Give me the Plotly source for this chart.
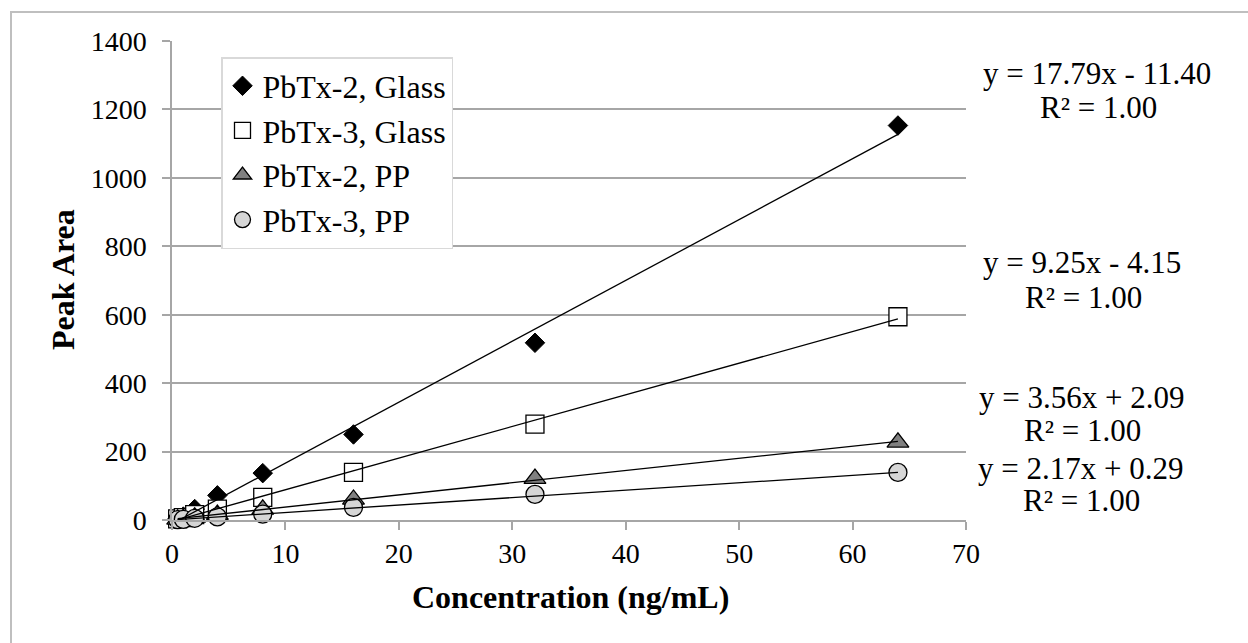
import plotly.graph_objects as go

# ---------------- data ----------------
conc = [0.5, 1, 2, 4, 8, 16, 32, 64]
pbtx2_glass = [4, 10, 32, 72, 137, 250, 518, 1153]
pbtx3_glass = [3, 7, 16, 32, 66, 139, 280, 594]
pbtx2_pp = [2, 4, 8, 16, 31, 60, 121, 227]
pbtx3_pp = [1, 2, 5, 9, 17, 37, 75, 139]
series_names = ["PbTx-2, Glass", "PbTx-3, Glass", "PbTx-2, PP", "PbTx-3, PP"]
fit_slopes = [17.79, 9.25, 3.56, 2.17]
fit_intercepts = [-11.40, -4.15, 2.09, 0.29]
r_squared = [1.00, 1.00, 1.00, 1.00]
x_ticks = [0, 10, 20, 30, 40, 50, 60, 70]
y_ticks = [0, 200, 400, 600, 800, 1000, 1200, 1400]
x_title = "Concentration (ng/mL)"
y_title = "Peak Area"

# ---------------- layout helpers ----------------
W, H = 1248, 643
L, R, T, B = 172, 966, 41, 520


def px(x):
    return (x - L) / (R - L)


def py(y):
    return (B - y) / (B - T)


FONT = "Liberation Serif, Times New Roman, serif"
GRID = "#a6a6a6"

series_values = [pbtx2_glass, pbtx3_glass, pbtx2_pp, pbtx3_pp]
marker_styles = [
    dict(symbol="diamond", size=15, color="black", line=dict(color="black", width=1)),
    dict(symbol="square", size=18, color="white", line=dict(color="black", width=1.3)),
    dict(symbol="triangle-up", size=19, color="#808080", line=dict(color="black", width=1.3)),
    dict(symbol="circle", size=18, color="#d6d6d6", line=dict(color="black", width=1.3)),
]

fig = go.Figure()
for name, vals, mk in zip(series_names, series_values, marker_styles):
    fig.add_trace(go.Scatter(x=conc, y=vals, mode="markers", name=name,
                             marker=mk, legendgroup=name, cliponaxis=False))

# trendlines from the fitted equations over the data range
x_lo, x_hi = min(conc), max(conc)
for m, b in zip(fit_slopes, fit_intercepts):
    fig.add_trace(go.Scatter(x=[x_lo, x_hi], y=[m * x_lo + b, m * x_hi + b],
                             mode="lines", line=dict(color="black", width=1.3),
                             showlegend=False, hoverinfo="skip"))

# equation labels (block centre x, equation y, R² y) in pixels
eq_pos = [(1097, 1098, 73, 107), (1082, 1083, 262, 297),
          (1081, 1082, 397, 430), (1080, 1081, 468, 500)]
annotations = []
for (m, b, r2), (xe, xr, ye, yr) in zip(zip(fit_slopes, fit_intercepts, r_squared), eq_pos):
    sign = "-" if b < 0 else "+"
    annotations.append(dict(xref="paper", yref="paper", x=px(xe), y=py(ye),
                            text=f"y = {m:.2f}x {sign} {abs(b):.2f}", showarrow=False,
                            xanchor="center", yanchor="middle",
                            font=dict(family=FONT, size=31, color="black")))
    annotations.append(dict(xref="paper", yref="paper", x=px(xr), y=py(yr),
                            text=f"R² = {r2:.2f}", showarrow=False,
                            xanchor="center", yanchor="middle",
                            font=dict(family=FONT, size=31, color="black")))

annotations.append(dict(xref="paper", yref="paper", x=px(63), y=py(280), text=y_title,
                        textangle=-90, showarrow=False, xanchor="center", yanchor="middle",
                        font=dict(family=FONT, size=32, color="black", weight="bold")))
annotations.append(dict(xref="paper", yref="paper", x=px(570), y=py(597), text=x_title,
                        showarrow=False, xanchor="center", yanchor="middle",
                        font=dict(family=FONT, size=32, color="black", weight="bold")))

fig.update_layout(
    width=W, height=H,
    margin=dict(l=L, r=W - R, t=T, b=H - B, pad=0),
    paper_bgcolor="white", plot_bgcolor="white",
    font=dict(family=FONT, size=28, color="black"),
    showlegend=True,
    legend=dict(x=px(221), y=py(57), xanchor="left", yanchor="top",
                bgcolor="white", bordercolor="#d9d9d9", borderwidth=1.5,
                font=dict(family=FONT, size=32, color="black"),
                tracegroupgap=0, itemwidth=30),
    annotations=annotations,
    shapes=[dict(type="rect", xref="paper", yref="paper",
                 x0=px(11), y0=py(700), x1=px(1300), y1=py(12),
                 line=dict(color="#bfbfbf", width=2), layer="below")],
)
fig.update_xaxes(range=[0, 70], tickvals=x_ticks, showgrid=False, zeroline=False,
                 showline=True, linecolor=GRID, linewidth=1.5,
                 ticks="outside", ticklen=8, tickcolor=GRID, tickwidth=1.5,
                 ticklabelstandoff=0, tickfont=dict(family=FONT, size=28, color="black"))
fig.update_yaxes(range=[0, 1400], tickvals=y_ticks, showgrid=True, gridcolor=GRID,
                 gridwidth=1.5, zeroline=False, showline=True, linecolor=GRID,
                 linewidth=1.5, ticks="outside", ticklen=8, tickcolor=GRID, tickwidth=1.5,
                 ticklabelstandoff=10, tickfont=dict(family=FONT, size=28, color="black"))

fig.write_html("out.html")
